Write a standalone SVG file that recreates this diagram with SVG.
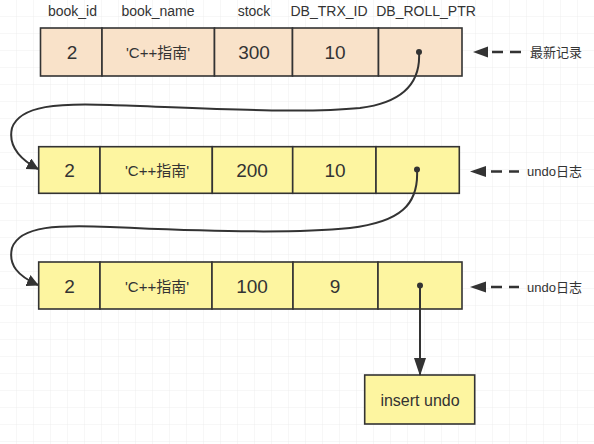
<svg xmlns="http://www.w3.org/2000/svg" width="594" height="444" viewBox="0 0 594 444">
<defs>
<pattern id="grid" width="17" height="17" patternUnits="userSpaceOnUse">
<path d="M17 0V17M0 17H17" fill="none" stroke="#eeeeee" stroke-width="1"/>
</pattern>
<marker id="ah" viewBox="0 0 12 12" refX="11" refY="6" markerWidth="12" markerHeight="12" markerUnits="userSpaceOnUse" orient="auto">
<path d="M0,0 L12,6 L0,12 Z" fill="#333"/>
</marker>
<marker id="ahv" viewBox="0 0 18 12" refX="17" refY="6" markerWidth="18" markerHeight="12" markerUnits="userSpaceOnUse" orient="auto">
<path d="M0,0 L18,6 L0,12 Z" fill="#333"/>
</marker>
</defs>
<style>
.cell{stroke:#333;stroke-width:1.6}
.peach{fill:#f9e2c9}
.yel{fill:#fdf5a0}
.t{font-family:"Liberation Sans","Noto Sans CJK SC",sans-serif;fill:#333;text-anchor:middle;dominant-baseline:central}
.num{font-size:19px}
.nm{font-size:15px}
.hd{font-size:14px}
.lb{font-size:13px;text-anchor:start}
.conn{fill:none;stroke:#333;stroke-width:2}
.dash{stroke:#333;stroke-width:2.5;stroke-dasharray:11 7;fill:none}
</style>
<rect width="594" height="444" fill="#fff"/>
<rect width="594" height="444" fill="url(#grid)"/>
<g id="headers">
<text class="t hd" x="72.5" y="11">book_id</text>
<text class="t hd" x="158" y="11">book_name</text>
<text class="t hd" x="254" y="11">stock</text>
<text class="t hd" x="329" y="11">DB_TRX_ID</text>
<text class="t hd" x="426" y="11">DB_ROLL_PTR</text>
</g>
<g id="row1">
<rect class="cell peach" x="40.5" y="28" width="61.5" height="48"/>
<rect class="cell peach" x="102" y="28" width="112.5" height="48"/>
<rect class="cell peach" x="214.5" y="28" width="78" height="48"/>
<rect class="cell peach" x="292.5" y="28" width="86" height="48"/>
<rect class="cell peach" x="378.5" y="28" width="83.5" height="48"/>
<text class="t num" x="72" y="52">2</text>
<text class="t nm" x="158" y="52">'C++指南'</text>
<text class="t num" x="254" y="52">300</text>
<text class="t num" x="335" y="52">10</text>
<circle cx="419" cy="52" r="3" fill="#333"/>
</g>
<g id="row2">
<rect class="cell yel" x="38.7" y="146.7" width="61.3" height="46.6"/>
<rect class="cell yel" x="100" y="146.7" width="112.3" height="46.6"/>
<rect class="cell yel" x="212.3" y="146.7" width="80.4" height="46.6"/>
<rect class="cell yel" x="292.7" y="146.7" width="83.3" height="46.6"/>
<rect class="cell yel" x="376" y="146.7" width="83.3" height="46.6"/>
<text class="t num" x="69.5" y="170">2</text>
<text class="t nm" x="157" y="170">'C++指南'</text>
<text class="t num" x="252" y="170">200</text>
<text class="t num" x="335" y="170">10</text>
<circle cx="417" cy="169.5" r="3" fill="#333"/>
</g>
<g id="row3">
<rect class="cell yel" x="38.7" y="262" width="61.3" height="47"/>
<rect class="cell yel" x="100" y="262" width="112" height="47"/>
<rect class="cell yel" x="212" y="262" width="81" height="47"/>
<rect class="cell yel" x="293" y="262" width="85" height="47"/>
<rect class="cell yel" x="378" y="262" width="84" height="47"/>
<text class="t num" x="69.5" y="286">2</text>
<text class="t nm" x="157" y="286">'C++指南'</text>
<text class="t num" x="252" y="286">100</text>
<text class="t num" x="335" y="286">9</text>
<circle cx="420" cy="285.5" r="3" fill="#333"/>
</g>
<g id="insert-undo">
<rect class="cell yel" x="364.7" y="375" width="110" height="49"/>
<text class="t" x="420" y="400" font-size="16">insert undo</text>
</g>
<g id="label-latest">
<path d="M473,52 L488,46.5 L488,57.5 Z" fill="#333"/>
<path class="dash" d="M492,52 H522"/>
<text class="t lb" x="530" y="52">最新记录</text>
</g>
<g id="label-undo1">
<path d="M470,171.5 L486,166 L486,177 Z" fill="#333"/>
<path class="dash" d="M491,171.5 H519"/>
<text class="t lb" x="527" y="171.5">undo日志</text>
</g>
<g id="label-undo2">
<path d="M470,287 L486,281.5 L486,292.5 Z" fill="#333"/>
<path class="dash" d="M491,287 H519"/>
<text class="t lb" x="527" y="287">undo日志</text>
</g>
<g id="connectors">
<path class="conn" marker-end="url(#ah)" d="M419,52 C421,85 400,103 360,108 C300,114 200,108 110,105 C60,103 20,105 12,128 C8,145 18,158 38,169"/>
<path class="conn" marker-end="url(#ah)" d="M417,169.5 C419,205 400,222 350,228 C290,234 200,231 110,227 C60,225 20,225 12,248 C8,265 18,276 38,285"/>
<path class="conn" marker-end="url(#ahv)" d="M420,285.5 V375"/>
</g>
</svg>
